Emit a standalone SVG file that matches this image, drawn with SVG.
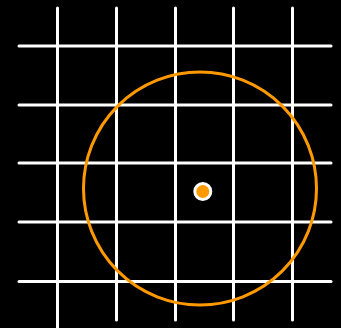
<svg xmlns="http://www.w3.org/2000/svg" width="341" height="328" viewBox="0 0 341 328">
<style>
.g{stroke:#fff;stroke-width:3;stroke-linecap:round;fill:none}
.c{stroke:#ff9900;stroke-width:3;fill:none}
</style>
<rect width="341" height="328" fill="#000"/>
<g id="grid">
<line class="g" x1="57.5" y1="8" x2="57.5" y2="330"/>
<line class="g" x1="116.5" y1="8" x2="116.5" y2="320"/>
<line class="g" x1="175.5" y1="8" x2="175.5" y2="320"/>
<line class="g" x1="233.5" y1="8" x2="233.5" y2="320"/>
<line class="g" x1="292.5" y1="8" x2="292.5" y2="320"/>
<line class="g" x1="19" y1="46" x2="331" y2="46"/>
<line class="g" x1="19" y1="105" x2="331" y2="105"/>
<line class="g" x1="19" y1="163" x2="331" y2="163"/>
<line class="g" x1="19" y1="222" x2="331" y2="222"/>
<line class="g" x1="19" y1="281.5" x2="331" y2="281.5"/>
</g>
<g id="circle">
<circle class="c" cx="200" cy="188.5" r="116.5"/>
</g>
<g id="dot">
<circle cx="202.8" cy="191.5" r="8" fill="#ff9900" stroke="#fff" stroke-width="3"/>
</g>
</svg>
